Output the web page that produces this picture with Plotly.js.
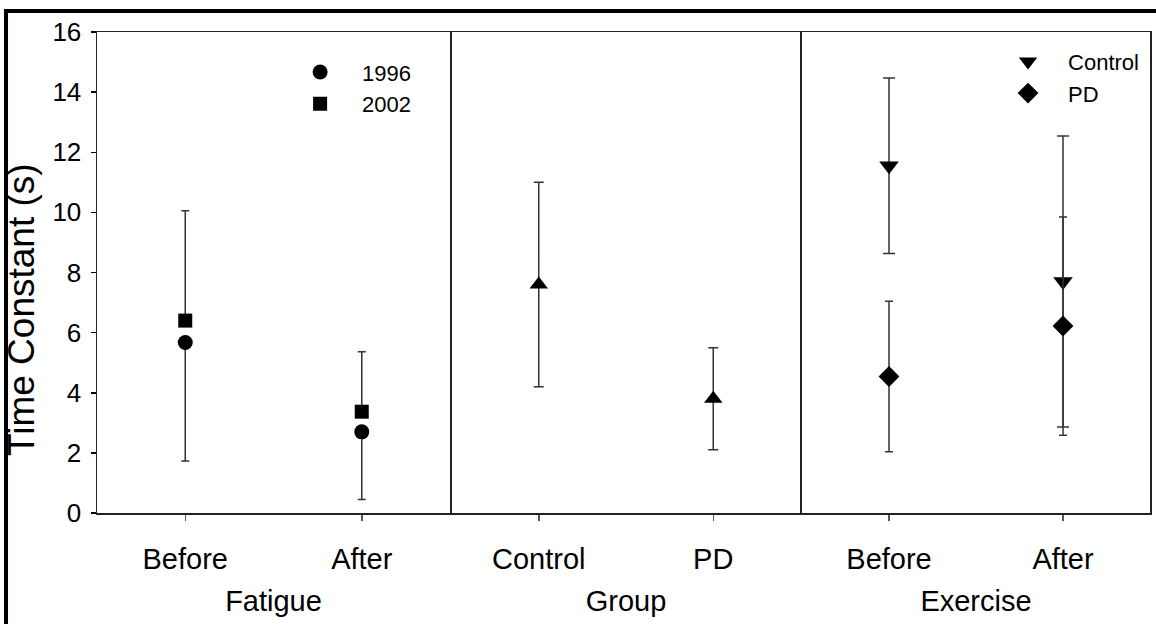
<!DOCTYPE html>
<html>
<head>
<meta charset="utf-8">
<script src="https://cdn.plot.ly/plotly-3.0.1.min.js"></script>
<style>html,body{margin:0;padding:0;background:#fff;}#chart{width:1156px;height:624px;}</style>
</head>
<body>
<div id="chart"></div>
<script>
// ---- data ----
const yTickVals = [0, 2, 4, 6, 8, 10, 12, 14, 16];
const yTitle = 'Time Constant (s)';

const fatigueCats = ['Before', 'After'];
const fatigue1996 = [5.67, 2.70];
const fatigue1996ErrMinus = [3.94, 2.25];
const fatigue2002 = [6.40, 3.37];
const fatigue2002ErrPlus = [3.65, 1.99];

const groupCats = ['Control', 'PD'];
const groupVals = [7.6, 3.8];
const groupErr = [3.4, 1.7];

const exerciseCats = ['Before', 'After'];
const exControl = [11.55, 7.7];
const exControlErr = [2.92, 4.84];
const exPD = [4.54, 6.22];
const exPDErr = [2.5, 3.63];

// ---- style ----
const FONT = 'Liberation Sans, Arial, sans-serif';
const errColor = '#333333';

const traces = [
  {
    x: fatigueCats, y: fatigue1996, name: '1996', type: 'scatter', mode: 'markers',
    xaxis: 'x', yaxis: 'y', legend: 'legend',
    marker: {symbol: 'circle', size: 15, color: '#000'},
    error_y: {type: 'data', symmetric: false, array: [0, 0], arrayminus: fatigue1996ErrMinus,
      color: errColor, thickness: 1.5, width: 4}
  },
  {
    x: fatigueCats, y: fatigue2002, name: '2002', type: 'scatter', mode: 'markers',
    xaxis: 'x', yaxis: 'y', legend: 'legend',
    marker: {symbol: 'square', size: 14, color: '#000'},
    error_y: {type: 'data', symmetric: false, array: fatigue2002ErrPlus, arrayminus: [0, 0],
      color: errColor, thickness: 1.5, width: 4}
  },
  {
    x: groupCats, y: groupVals, name: 'Group', type: 'scatter', mode: 'markers',
    xaxis: 'x2', yaxis: 'y2', showlegend: false,
    marker: {symbol: 'triangle-up', size: 16, color: '#000'},
    error_y: {type: 'data', array: groupErr, color: errColor, thickness: 1.5, width: 5}
  },
  {
    x: exerciseCats, y: exControl, name: 'Control', type: 'scatter', mode: 'markers',
    xaxis: 'x3', yaxis: 'y3', legend: 'legend2',
    marker: {symbol: 'triangle-down', size: 17, color: '#000'},
    error_y: {type: 'data', array: exControlErr, color: errColor, thickness: 1.5, width: 6}
  },
  {
    x: exerciseCats, y: exPD, name: 'PD', type: 'scatter', mode: 'markers',
    xaxis: 'x3', yaxis: 'y3', legend: 'legend2',
    marker: {symbol: 'diamond', size: 16, color: '#000'},
    error_y: {type: 'data', array: exPDErr, color: errColor, thickness: 1.5, width: 4}
  }
];

function xAxis(domain, cats, title) {
  return {
    domain: domain, type: 'category', range: [-0.5, 1.5],
    tickmode: 'array', tickvals: cats, ticktext: cats,
    showline: true, mirror: true, linecolor: '#222', linewidth: 1.5,
    ticks: 'outside', ticklen: 6, tickwidth: 1.5, tickcolor: '#555',
    ticklabelstandoff: 14,
    showgrid: false, zeroline: false, fixedrange: true,
    tickfont: {family: FONT, size: 29, color: '#000'},
    title: {text: title, font: {family: FONT, size: 29, color: '#000'}, standoff: 16}
  };
}
function yAxis(anchor, showTicks) {
  return {
    anchor: anchor, domain: [0, 1], range: [0, 16],
    tickmode: 'array', tickvals: yTickVals,
    showticklabels: showTicks, ticks: showTicks ? 'outside' : '', ticklen: 5, tickwidth: 1.5, tickcolor: '#000',
    ticklabelstandoff: 4,
    showline: true, mirror: true, linecolor: '#222', linewidth: 1.5,
    showgrid: false, zeroline: false, fixedrange: true,
    tickfont: {family: FONT, size: 26, color: '#000'}
  };
}

const layout = {
  width: 1156, height: 624,
  margin: {l: 97, r: 6, t: 32, b: 111},
  paper_bgcolor: '#fff', plot_bgcolor: '#fff',
  font: {family: FONT, color: '#000'},
  xaxis: Object.assign(xAxis([0, 0.33523], fatigueCats, 'Fatigue'), {anchor: 'y'}),
  xaxis2: Object.assign(xAxis([0.33666, 0.66809], groupCats, 'Group'), {anchor: 'y2'}),
  xaxis3: Object.assign(xAxis([0.66952, 1], exerciseCats, 'Exercise'), {anchor: 'y3'}),
  yaxis: yAxis('x', true),
  yaxis2: yAxis('x2', false),
  yaxis3: yAxis('x3', false),
  legend: {
    x: 0.172, y: 0.96, xanchor: 'left', yanchor: 'top',
    bgcolor: 'rgba(0,0,0,0)', borderwidth: 0, itemwidth: 74,
    font: {family: FONT, size: 22, color: '#000'}
  },
  legend2: {
    x: 0.8462, y: 0.982, xanchor: 'left', yanchor: 'top',
    bgcolor: 'rgba(0,0,0,0)', borderwidth: 0, itemwidth: 70,
    font: {family: FONT, size: 22, color: '#000'}
  },
  annotations: [
    {text: yTitle, xref: 'paper', yref: 'paper', x: -0.0722, y: 0.424,
     xanchor: 'center', yanchor: 'middle', textangle: -90, showarrow: false,
     font: {family: FONT, size: 37, color: '#000'}}
  ],
  shapes: [
    {type: 'path', xref: 'paper', yref: 'paper', layer: 'above',
     path: 'M -0.0864 -0.3 L -0.0864 1.0437 L 1.05 1.0437',
     line: {color: '#000', width: 4}}
  ]
};

Plotly.newPlot('chart', traces, layout, {displayModeBar: false, staticPlot: true});
</script>
</body>
</html>
